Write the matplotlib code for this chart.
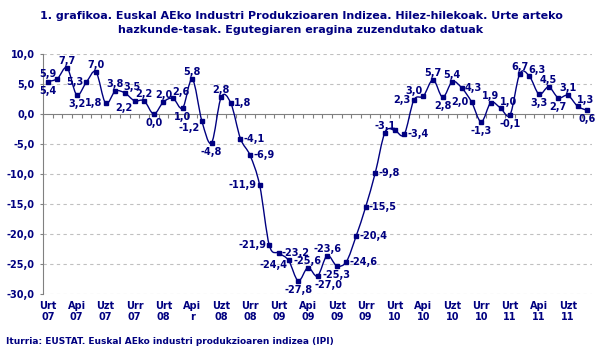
import numpy as np
import matplotlib
matplotlib.use("Agg")
import matplotlib.pyplot as plt
from matplotlib.path import Path
from matplotlib.patches import PathPatch

NAVY = "#000080"
GRAY = "#808080"

# urte arteko hazkunde-tasak, 2007ko urtarrila - 2011ko iraila
values = [5.4, 5.9, 7.7, 3.2, 5.3, 7.0, 1.8, 3.8, 3.5, 2.2, 2.2, 0.0,
          2.0, 2.6, 1.0, 5.8, -1.2, -4.8, 2.8, 1.8, -4.1, -6.9, -11.9, -21.9,
          -23.2, -24.4, -27.8, -25.6, -27.0, -23.6, -25.3, -24.6, -20.4, -15.5, -9.8, -3.1,
          -2.7, -3.4, 2.3, 3.0, 5.7, 2.8, 5.4, 4.3, 2.0, -1.3, 1.9, 1.0,
          -0.1, 6.7, 6.3, 3.3, 4.5, 2.7, 3.1, 1.3, 0.6]

tick_labels = ["Urt\n07", "Api\n07", "Uzt\n07", "Urr\n07",
               "Urt\n08", "Api\nr", "Uzt\n08", "Urr\n08",
               "Urt\n09", "Api\n09", "Uzt\n09", "Urr\n09",
               "Urt\n10", "Api\n10", "Uzt\n10", "Urr\n10",
               "Urt\n11", "Api\n11", "Uzt\n11"]

# etiketen kokapena (a=gainean, b=azpian, l=ezkerrean, r=eskuinean, ''=ez)
label_pos = ['b', 'al', 'a', 'b', 'l', 'a', 'l', 'a', 'ar', 'bl', 'a', 'b',
             'a', 'ar', 'b', 'a', 'bl', 'b', 'a', 'r', 'r', 'r', 'l', 'l',
             'r', 'lb', 'b', 'a', 'br', 'a', 'b', 'r', 'r', 'r', 'r', 'a',
             '', 'r', 'l', 'al', 'a', 'b', 'a', 'r', 'l', 'b', 'a', 'ar',
             'b', 'a', 'ar', 'b', 'a', 'b', 'a', 'ar', 'b']

title = ("1. grafikoa. Euskal AEko Industri Produkzioaren Indizea. Hilez-hilekoak. Urte arteko\n"
         "hazkunde-tasak. Egutegiaren eragina zuzendutako datuak")
source = "Iturria: EUSTAT. Euskal AEko industri produkzioaren indizea (IPI)"

fmt = lambda v: f"{v:.1f}".replace(".", ",")

x = np.arange(len(values))
y = np.array(values)
n = len(values)

fig = plt.figure(figsize=(6.02, 3.6), dpi=100)
ax = fig.add_axes([43 / 602, 1 - 294 / 360, (592 - 43) / 602, 240 / 360])
ax.set_xlim(-0.5, n - 0.5)
ax.set_ylim(-30, 10)

yticks = np.arange(-30, 11, 5)
for v in yticks:
    if v != 0:
        ax.axhline(v, color="#c0c0c0", ls=(0, (3, 3)), lw=0.8, zorder=0)
ax.set_yticks(yticks)
ax.set_yticklabels([fmt(v) for v in yticks])
ax.tick_params(axis="y", length=2, color=GRAY, pad=4, labelsize=7,
               labelcolor=NAVY)
for t in ax.get_yticklabels():
    t.set_fontweight("bold")

for s in ("top", "right"):
    ax.spines[s].set_visible(False)
ax.spines["left"].set_color(GRAY)
ax.spines["bottom"].set_color(GRAY)
ax.spines["bottom"].set_position(("data", 0))
ax.set_xticks(np.arange(-0.5, n, 1))
ax.set_xticklabels([])
ax.tick_params(axis="x", length=3, color=GRAY, direction="out")

sec = ax.secondary_xaxis("bottom")
sec.set_xticks(x[::3])
sec.set_xticklabels(tick_labels)
sec.tick_params(length=0, pad=5, labelsize=7, labelcolor=NAVY)
sec.spines["bottom"].set_visible(False)
for t in sec.get_xticklabels():
    t.set_fontweight("bold")
    t.set_linespacing(1.1)

# leundutako lerroa (Bezier)
verts = [(x[0], y[0])]
codes = [Path.MOVETO]
pts = np.column_stack([x, y]).astype(float)
for i in range(n - 1):
    p0 = pts[i - 1] if i > 0 else pts[i]
    p1 = pts[i]
    p2 = pts[i + 1]
    p3 = pts[i + 2] if i + 2 < n else pts[i + 1]
    c1 = p1 + (p2 - p0) / 6
    c2 = p2 - (p3 - p1) / 6
    verts += [tuple(c1), tuple(c2), tuple(p2)]
    codes += [Path.CURVE4] * 3
ax.add_patch(PathPatch(Path(verts, codes), fill=False, edgecolor=NAVY, lw=1, zorder=3))
ax.plot(x, y, ls="none", marker="s", ms=3.5, color=NAVY, zorder=4)

offsets = {"a": (0, 7, "center"), "b": (0, -9, "center"),
           "l": (-3, 0, "right"), "r": (3, 0, "left"),
           "al": (-1, 5, "right"), "ar": (-1, 6, "left"),
           "bl": (-2, -7, "right"), "br": (-3, -9, "left"),
           "lb": (-1, -5, "right")}
for xi, v, p in zip(x, values, label_pos):
    if not p:
        continue
    dx, dy, ha = offsets[p]
    ax.annotate(fmt(v), (xi, v), xytext=(dx, dy), textcoords="offset pixels",
                ha=ha, va="center", fontsize=7, fontweight="bold", color=NAVY,
                zorder=5)

fig.text(0.5, 1 - 23 / 360, title, ha="center", va="center", fontsize=8,
         fontweight="bold", color=NAVY, linespacing=1.4)
fig.text(6 / 602, 1 - 342 / 360, source, ha="left", va="center", fontsize=6.5,
         fontweight="bold", color=NAVY)

fig.savefig("out.png", dpi=100)
